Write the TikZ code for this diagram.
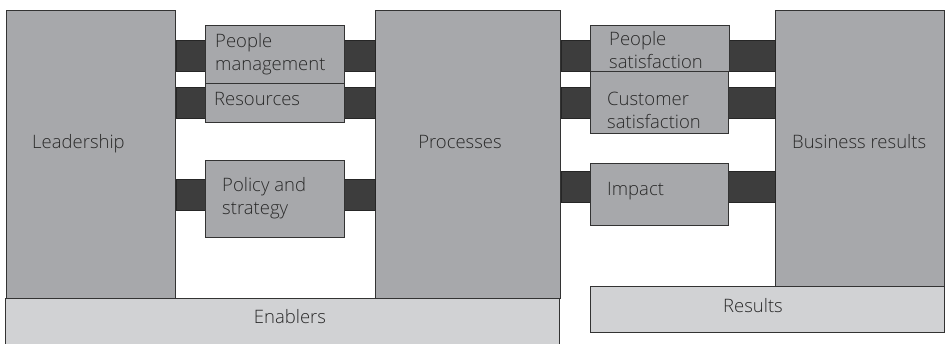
\documentclass[tikz,border=0pt]{standalone}
\usepackage{fontspec}
\setmainfont{Open Sans Light}
\begin{document}
\begin{tikzpicture}[x=1pt,y=-1pt,
  box/.style={draw=black!80,fill=boxgray,line width=0.8pt,inner sep=0pt,anchor=north west},
  light/.style={draw=black!80,fill=lightgray2,line width=0.8pt,inner sep=0pt,anchor=north west},
  bar/.style={draw=black!85,fill=bardark,line width=0.5pt},
  lbl/.style={text=txtgray,font=\fontsize{18.5}{22.5}\selectfont,inner sep=0pt,align=left}]
\definecolor{boxgray}{HTML}{A7A8AB}
\definecolor{lightgray2}{HTML}{D1D2D4}
\definecolor{bardark}{HTML}{3D3D3D}
\definecolor{txtgray}{HTML}{2A2A2A}
\useasboundingbox (0,0) rectangle (947,343);
\begin{scope}
\clip (0,0) rectangle (947,343);
% bar levels
\coordinate (t1) at (0,40); \coordinate (b1) at (0,71);
\coordinate (t2) at (0,87); \coordinate (b2) at (0,118);
\coordinate (t3) at (0,179); \coordinate (b3) at (0,210);
\coordinate (t4) at (0,171); \coordinate (b4) at (0,202);
% boxes (empty, for geometry)
\node[box,minimum width=169,minimum height=288] (lead) at (6,10) {};
\node[box,minimum width=185,minimum height=288] (proc) at (375,10) {};
\node[box,minimum width=169,minimum height=276] (bus) at (775,10) {};
\node[light,minimum width=554,minimum height=50] (enab) at (5,298) {};
\node[light,minimum width=354,minimum height=46] (res) at (590,286) {};
% connector bars
\draw[bar] (lead.east |- t1) rectangle (proc.west |- b1);
\draw[bar] (lead.east |- t2) rectangle (proc.west |- b2);
\draw[bar] (lead.east |- t3) rectangle (proc.west |- b3);
\draw[bar] (proc.east |- t1) rectangle (bus.west |- b1);
\draw[bar] (proc.east |- t2) rectangle (bus.west |- b2);
\draw[bar] (proc.east |- t4) rectangle (bus.west |- b4);
% middle boxes
\node[box,minimum width=139,minimum height=58] (pm) at (205,25) {};
\node[box,minimum width=139,minimum height=39] (rs) at (205,83) {};
\node[box,minimum width=139,minimum height=77] (ps) at (205,160) {};
\node[box,minimum width=139,minimum height=46] (psat) at (590,25) {};
\node[box,minimum width=138,minimum height=62] (csat) at (590,71) {};
\node[box,minimum width=138,minimum height=62] (imp) at (590,163) {};
% labels
\node[lbl,anchor=base west] (tlead) at (32,148) {Leadership};
\node[lbl,anchor=base] (tproc) at (460,148) {Processes};
\node[lbl,anchor=base west] (tbus) at (792,148) {Business results};
\node[lbl,anchor=base] (tenab) at (290,323) {Enablers};
\node[lbl,anchor=base] (tres) at (753,312) {Results};
\node[lbl,anchor=base west] (tpm) at (215,70) {People\\management};
\node[lbl,anchor=base west] (trs) at (214,105) {Resources};
\node[lbl,anchor=base west] (tps) at (222,214) {Policy and\\strategy};
\node[lbl,anchor=base west] (tpsat) at (609,68) {People\\satisfaction};
\node[lbl,anchor=base west] (tcsat) at (607,128) {Customer\\satisfaction};
\node[lbl,anchor=base west] (timp) at (607,195) {Impact};
\end{scope}
\end{tikzpicture}
\end{document}
